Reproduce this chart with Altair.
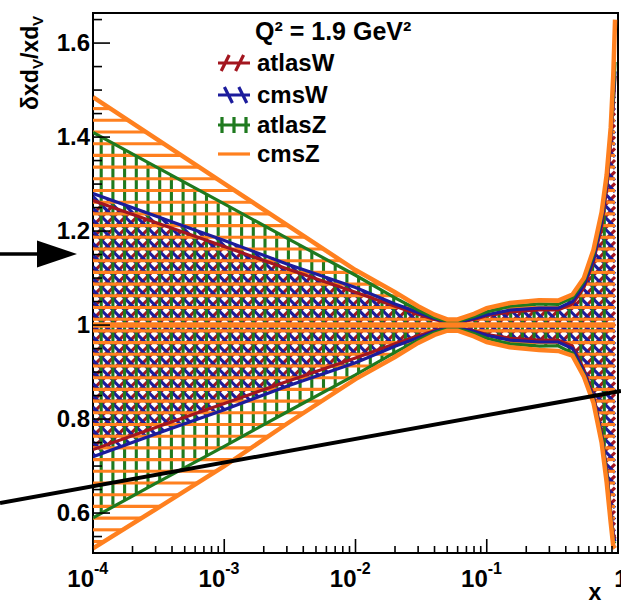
import altair as alt
import numpy as np
import pandas as pd

# ---------------- data ----------------
x_pts = [1e-4, 3e-4, 1e-3, 3e-3, 1e-2, 0.02, 0.03, 0.04, 0.05, 0.06, 0.08, 0.1,
         0.15, 0.25, 0.35, 0.45, 0.55, 0.65, 0.75, 0.82, 0.88, 0.92, 0.95]

series_names = ["atlasW", "cmsW", "atlasZ", "cmsZ"]
series_colors = ["#a3161f", "#1c1c9c", "#1f7a1f", "#ff801f"]

atlasW_up = [1.265, 1.218, 1.167, 1.12, 1.07, 1.04, 1.023, 1.012, 1.005, 1.005, 1.012, 1.02,
             1.028, 1.032, 1.032, 1.045, 1.08, 1.135, 1.21, 1.29, 1.39, 1.47, 1.53]
atlasW_lo = [0.735, 0.782, 0.833, 0.88, 0.93, 0.96, 0.977, 0.988, 0.995, 0.995, 0.988, 0.98,
             0.972, 0.968, 0.968, 0.955, 0.905, 0.85, 0.77, 0.69, 0.605, 0.555, 0.545]
cmsW_up = [1.28, 1.232, 1.18, 1.13, 1.08, 1.045, 1.027, 1.014, 1.006, 1.006, 1.014, 1.022,
           1.032, 1.036, 1.036, 1.05, 1.085, 1.14, 1.22, 1.30, 1.40, 1.48, 1.54]
cmsW_lo = [0.72, 0.768, 0.82, 0.87, 0.92, 0.955, 0.973, 0.986, 0.994, 0.994, 0.986, 0.978,
           0.968, 0.964, 0.964, 0.95, 0.90, 0.845, 0.765, 0.685, 0.60, 0.55, 0.54]
atlasZ_up = [1.41, 1.337, 1.258, 1.185, 1.106, 1.058, 1.032, 1.016, 1.008, 1.008, 1.018, 1.028,
             1.040, 1.045, 1.044, 1.058, 1.093, 1.15, 1.23, 1.31, 1.41, 1.49, 1.56]
atlasZ_lo = [0.59, 0.663, 0.742, 0.815, 0.894, 0.942, 0.968, 0.984, 0.992, 0.992, 0.982, 0.972,
             0.96, 0.955, 0.956, 0.94, 0.895, 0.84, 0.76, 0.68, 0.59, 0.54, 0.535]
cmsZ_up = [1.485, 1.397, 1.301, 1.213, 1.117, 1.07, 1.04, 1.022, 1.012, 1.012, 1.024, 1.036,
           1.047, 1.053, 1.052, 1.065, 1.10, 1.16, 1.24, 1.32, 1.42, 1.53, 1.65]
cmsZ_lo = [0.525, 0.608, 0.70, 0.79, 0.885, 0.932, 0.962, 0.979, 0.988, 0.988, 0.976, 0.964,
           0.953, 0.947, 0.945, 0.935, 0.89, 0.835, 0.75, 0.665, 0.58, 0.53, 0.525]

upper = {"atlasW": atlasW_up, "cmsW": cmsW_up, "atlasZ": atlasZ_up, "cmsZ": cmsZ_up}
lower = {"atlasW": atlasW_lo, "cmsW": cmsW_lo, "atlasZ": atlasZ_lo, "cmsZ": cmsZ_lo}
hatch_kind = {"atlasW": "fwd", "cmsW": "back", "atlasZ": "vert", "cmsZ": "horiz"}

y_major = [0.6, 0.8, 1.0, 1.2, 1.4, 1.6]
y_labels = ["0.6", "0.8", "1", "1.2", "1.4", "1.6"]
y_minor = [0.55, 0.65, 0.7, 0.75, 0.85, 0.9, 0.95, 1.05, 1.1, 1.15, 1.25, 1.3, 1.35,
           1.45, 1.5, 1.55, 1.65]
x_major = [1e-4, 1e-3, 1e-2, 1e-1, 1.0]
x_minor = [k * 10.0 ** e for e in (-4, -3, -2, -1) for k in range(2, 10)]
x_label_base = ["10", "10", "10", "10", "1"]
x_label_exp = ["-4", "-3", "-2", "-1", ""]

legend_title = "Q² = 1.9 GeV²"

# ---------------- layout ----------------
W, H = 525, 540
XMIN, XMAX = 1e-4, 1.0
YMIN, YMAX = 0.515, 1.664
FONT = "Liberation Sans"
LOG0 = np.log10(XMIN)
PXD = W / (np.log10(XMAX) - LOG0)
PXY = H / (YMAX - YMIN)
SP = 11.7

xs = alt.Scale(type="log", domain=[XMIN, XMAX], nice=False)
ys = alt.Scale(domain=[YMIN, YMAX], nice=False, zero=False)


def X(f):
    return alt.X(f, scale=xs, axis=None)


def Y(f):
    return alt.Y(f, scale=ys, axis=None)


def to_x(u):
    return float(10 ** (u / PXD + LOG0))


def to_y(v):
    return float(v / PXY + YMIN)


def runs(mask):
    m = np.concatenate([[0], mask.astype(int), [0]])
    d = np.diff(m)
    st = np.where(d == 1)[0]
    en = np.where(d == -1)[0] - 1
    return list(zip(st, en))


# hatch segments computed from the band edges
hrows = []
u_pts = (np.log10(x_pts) - LOG0) * PXD
for name in series_names:
    up = (np.array(upper[name]) - YMIN) * PXY
    lo = (np.array(lower[name]) - YMIN) * PXY
    uu = np.arange(0, u_pts[-1], 0.25)
    upv = np.interp(uu, u_pts, up)
    lov = np.interp(uu, u_pts, lo)
    kind = hatch_kind[name]
    if kind == "vert":
        for uk in np.arange(8.2, u_pts[-1], SP):
            a = np.interp(uk, u_pts, lo)
            b = np.interp(uk, u_pts, up)
            hrows.append((name, to_x(uk), to_x(uk), to_y(a), to_y(b)))
    elif kind == "horiz":
        v1 = (1 - YMIN) * PXY
        start = v1 % SP + SP / 2
        for vj in np.arange(start, H, SP):
            mask = (lov <= vj) & (upv >= vj)
            for s, e in runs(mask):
                if e > s:
                    hrows.append((name, to_x(uu[s]), to_x(uu[e]), to_y(vj), to_y(vj)))
    else:
        sg = 1 if kind == "fwd" else -1
        off = 0 if kind == "fwd" else SP / 2
        for c in np.arange(-W - H + off, W + H, SP):
            vv = sg * uu + c
            mask = (lov <= vv) & (upv >= vv) & (vv >= 0) & (vv <= H)
            for s, e in runs(mask):
                if e > s:
                    hrows.append((name, to_x(uu[s]), to_x(uu[e]), to_y(vv[s]), to_y(vv[e])))
hatch_df = pd.DataFrame(hrows, columns=["series", "x", "x2", "y", "y2"])

hatch_layers = []
for name, col in zip(series_names, series_colors):
    hatch_layers.append(
        alt.Chart(hatch_df[hatch_df["series"] == name]).mark_rule(
            strokeWidth=3.1, color=col, clip=True
        ).encode(x=X("x:Q"), x2="x2:Q", y=Y("y:Q"), y2="y2:Q")
    )

# band edge lines
edge_layers = []
for name, col in zip(series_names, series_colors):
    rows = []
    for i, xv in enumerate(x_pts):
        rows.append({"x": xv, "y": upper[name][i], "side": "up"})
        rows.append({"x": xv, "y": lower[name][i], "side": "lo"})
    df = pd.DataFrame(rows)
    sw = 4.5 if name == "cmsZ" else 3.2
    edge_layers.append(
        alt.Chart(df).mark_line(color=col, strokeWidth=sw, clip=True).encode(
            x=X("x:Q"), y=Y("y:Q"), detail="side:N"
        )
    )
central_df = pd.DataFrame({"x": [x_pts[0], x_pts[-1]], "y": [1.0, 1.0]})
central = alt.Chart(central_df).mark_line(color=series_colors[3], strokeWidth=5.5, clip=True).encode(
    x=X("x:Q"), y=Y("y:Q"))

# legend drawn by hand
shape_paths = [
    "M-1,0L1,0M-0.8,0.5L-0.3,-0.5M0.1,0.5L0.6,-0.5",
    "M-1,0L1,0M-0.6,-0.5L-0.1,0.5M0.3,-0.5L0.8,0.5",
    "M-1,0L1,0M-0.75,-0.5L-0.75,0.5M0,-0.5L0,0.5M0.75,-0.5L0.75,0.5",
    "M-1,0L1,0",
]
leg_layers = []
row_y = [50, 82, 112, 141]
for i, name in enumerate(series_names):
    one = pd.DataFrame({"t": [name]})
    leg_layers.append(alt.Chart(one).mark_point(
        shape=shape_paths[i], filled=False, color=series_colors[i], strokeWidth=3.2,
        size=1024, opacity=1
    ).encode(x=alt.value(141), y=alt.value(row_y[i])))
    leg_layers.append(alt.Chart(one).mark_text(
        font=FONT, fontSize=24, fontWeight="bold", align="left", baseline="middle", color="black"
    ).encode(x=alt.value(164), y=alt.value(row_y[i] + 1), text="t:N"))
header = alt.Chart(pd.DataFrame({"t": [legend_title]})).mark_text(
    font=FONT, fontSize=25, fontWeight="bold", align="left", baseline="alphabetic", color="black"
).encode(x=alt.value(162), y=alt.value(27), text="t:N")

# ticks drawn inward
ymaj_df = pd.DataFrame({"y": y_major, "lab": y_labels})
ymin_df = pd.DataFrame({"y": y_minor})
xmaj_df = pd.DataFrame({"x": x_major})
xmin_df = pd.DataFrame({"x": x_minor})
tick_y_major = alt.Chart(ymaj_df).mark_rule(color="black", strokeWidth=1.6).encode(
    y=Y("y:Q"), x=alt.value(0), x2=alt.value(17))
tick_y_minor = alt.Chart(ymin_df).mark_rule(color="black", strokeWidth=1.6).encode(
    y=Y("y:Q"), x=alt.value(0), x2=alt.value(9))
tick_x_major = alt.Chart(xmaj_df).mark_rule(color="black", strokeWidth=1.6).encode(
    x=X("x:Q"), y=alt.value(H), y2=alt.value(H - 14))
tick_x_minor = alt.Chart(xmin_df).mark_rule(color="black", strokeWidth=1.6).encode(
    x=X("x:Q"), y=alt.value(H), y2=alt.value(H - 7))

# y tick labels
ylab = alt.Chart(ymaj_df).mark_text(
    font=FONT, fontSize=24, fontWeight="bold", align="right", baseline="middle", dy=1, color="black"
).encode(y=Y("y:Q"), x=alt.value(-3), text="lab:N")

# x tick labels 10^n
xl_df = pd.DataFrame({"x": x_major, "base": x_label_base, "exp": x_label_exp})
xlab_base = alt.Chart(xl_df[xl_df["x"] < 1]).mark_text(
    font=FONT, fontSize=24, fontWeight="bold", align="right", baseline="alphabetic", dx=1, color="black"
).encode(x=X("x:Q"), y=alt.value(H + 34), text="base:N")
xlab_exp = alt.Chart(xl_df[xl_df["x"] < 1]).mark_text(
    font=FONT, fontSize=16, fontWeight="bold", align="left", baseline="alphabetic", dx=1, color="black"
).encode(x=X("x:Q"), y=alt.value(H + 21), text="exp:N")
xlab_one = alt.Chart(xl_df[xl_df["x"] >= 1]).mark_text(
    font=FONT, fontSize=24, fontWeight="bold", align="center", baseline="alphabetic", dx=3, color="black"
).encode(x=X("x:Q"), y=alt.value(H + 34), text="base:N")

xtitle = alt.Chart(pd.DataFrame({"t": ["x"]})).mark_text(
    font=FONT, fontSize=23, fontWeight="bold", align="center", baseline="alphabetic", color="black"
).encode(x=alt.value(502), y=alt.value(587), text="t:N")

# y title  δxd_V/xd_V  (rotated, built from pieces)
yt_text = ["δxd", "V", "/xd", "V"]
yt_size = [23, 15, 23, 15]
yt_xp = [-55, -50, -55, -50]
yt_yp = [97, 56, 46, 13]
ytitle_layers = []
for i in range(4):
    ytitle_layers.append(alt.Chart(pd.DataFrame({"t": [yt_text[i]]})).mark_text(
        font=FONT, fontSize=yt_size[i], fontWeight="bold", angle=270,
        align="left", baseline="alphabetic", color="black"
    ).encode(x=alt.value(yt_xp[i]), y=alt.value(yt_yp[i]), text="t:N"))

# annotation arrow and line
one_row = pd.DataFrame({"a": [0]})
arrow_shaft = alt.Chart(one_row).mark_rule(color="black", strokeWidth=3.5).encode(
    x=alt.value(-93), x2=alt.value(-52), y=alt.value(241), y2=alt.value(241))
arrow_head = alt.Chart(one_row).mark_point(
    shape="M-1,-0.675L1,0L-1,0.675Z", filled=True, color="black", size=1600, opacity=1
).encode(x=alt.value(-36), y=alt.value(241))
slash = alt.Chart(one_row).mark_rule(color="black", strokeWidth=4).encode(
    x=alt.value(-93), x2=alt.value(528), y=alt.value(490), y2=alt.value(378))

layers = (hatch_layers + edge_layers + [central, tick_y_major, tick_y_minor, tick_x_major, tick_x_minor,
          ylab, xlab_base, xlab_exp, xlab_one, xtitle, header] + leg_layers + ytitle_layers
          + [arrow_shaft, arrow_head, slash])

chart = alt.layer(*layers).properties(
    width=W, height=H,
    autosize=alt.AutoSizeParams(type="none"),
    padding={"left": 93, "top": 13, "right": 3, "bottom": 51},
    background="white",
).configure_view(stroke="black", strokeWidth=2)

chart.save("out.html", embed_options={"renderer": "svg", "actions": False})
